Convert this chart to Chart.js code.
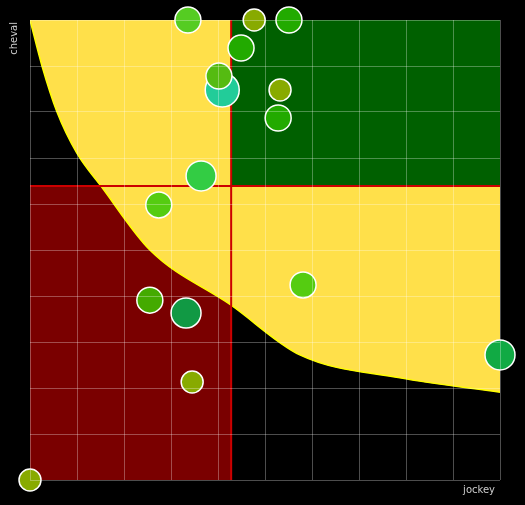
<!DOCTYPE html>
<html><head><meta charset="utf-8">
<script src="https://cdn.jsdelivr.net/npm/chart.js@4/dist/chart.umd.min.js"></script>
<style>html,body{margin:0;padding:0;background:#000;}canvas{display:block;}</style>
</head><body>
<canvas id="c" width="525" height="505"></canvas>
<script>
const curveX = [0, 2.55, 5.74, 10, 15.1, 25.5, 42.8, 57.4, 78.7, 100];
const curveY = [100, 90, 80, 71, 63.9, 50, 38, 27.2, 22.2, 19.1];
const splitX = 42.8;
const splitY = 63.9;
const bubbleX = [33.6, 47.7, 55.1, 44.9, 40.9, 40.2, 53.2, 52.8, 36.4, 27.4, 58.1, 25.5, 33.2, 100, 34.5, 0];
const bubbleY = [100, 100, 100, 93.9, 84.8, 87.8, 84.8, 78.7, 66.1, 59.8, 42.4, 39.1, 36.3, 27.2, 21.3, 0];
const bubbleR = [13, 11, 13, 13, 17, 13, 11, 13, 15, 13, 13, 13, 15, 15, 11, 11];
const bubbleC = ['#55cc22','#88aa00','#22aa00','#22aa00','#22cc99','#55bb11','#88aa00','#22aa00','#33cc44','#55cc11','#55cc11','#44aa00','#119944','#11aa44','#88aa00','#88aa00'];

const bg = {id:'bg', beforeDraw(c){const x=c.ctx;x.save();x.fillStyle='#000';x.fillRect(0,0,c.width,c.height);x.restore();},
 afterDraw(c){const x=c.ctx;x.save();x.fillStyle='#ccc';x.font='10px "DejaVu Sans", sans-serif';
 x.textAlign='right';x.textBaseline='bottom';x.fillText('jockey',495,495);
 x.translate(19,22);x.rotate(-Math.PI/2);x.textAlign='right';x.textBaseline='bottom';x.fillText('cheval',0,0);x.restore();}};

new Chart(document.getElementById('c'), {
 data:{datasets:[
  {type:'bubble', order:0, clip:false, data:bubbleX.map((v,i)=>({x:v,y:bubbleY[i],r:bubbleR[i]})), backgroundColor:bubbleC, borderColor:'#fff', borderWidth:1.5},
  {type:'line', order:1, data:[{x:splitX,y:0},{x:splitX,y:100}], borderColor:'#cc0000', borderWidth:2, pointRadius:0, fill:false},
  {type:'line', order:1, data:[{x:0,y:splitY},{x:100,y:splitY}], borderColor:'#cc0000', borderWidth:2, pointRadius:0, fill:false},
  {type:'line', order:2, data:[{x:splitX,y:splitY},{x:100,y:splitY}], borderWidth:0, pointRadius:0, fill:'end', backgroundColor:'#006000'},
  {type:'line', order:3, data:curveX.map((v,i)=>({x:v,y:curveY[i]})), borderColor:'#ffff00', borderWidth:1.5, pointRadius:0, tension:0.4, cubicInterpolationMode:'monotone', fill:'end', backgroundColor:'#ffe04a'},
  {type:'line', order:4, data:[{x:0,y:splitY},{x:splitX,y:splitY}], borderWidth:0, pointRadius:0, fill:'start', backgroundColor:'#7a0000'}
 ]},
 options:{responsive:false, animation:false, events:[],
  layout:{padding:{left:30,top:20,right:25,bottom:25}},
  plugins:{legend:{display:false},tooltip:{enabled:false}},
  scales:{
   x:{type:'linear',min:0,max:100,ticks:{display:false,stepSize:10},grid:{color:'rgba(255,255,255,0.3)',drawTicks:false,z:1},border:{display:false}},
   y:{type:'linear',min:0,max:100,ticks:{display:false,stepSize:10},grid:{color:'rgba(255,255,255,0.3)',drawTicks:false,z:1},border:{display:false}}
  }},
 plugins:[bg]
});
</script>
</body></html>
